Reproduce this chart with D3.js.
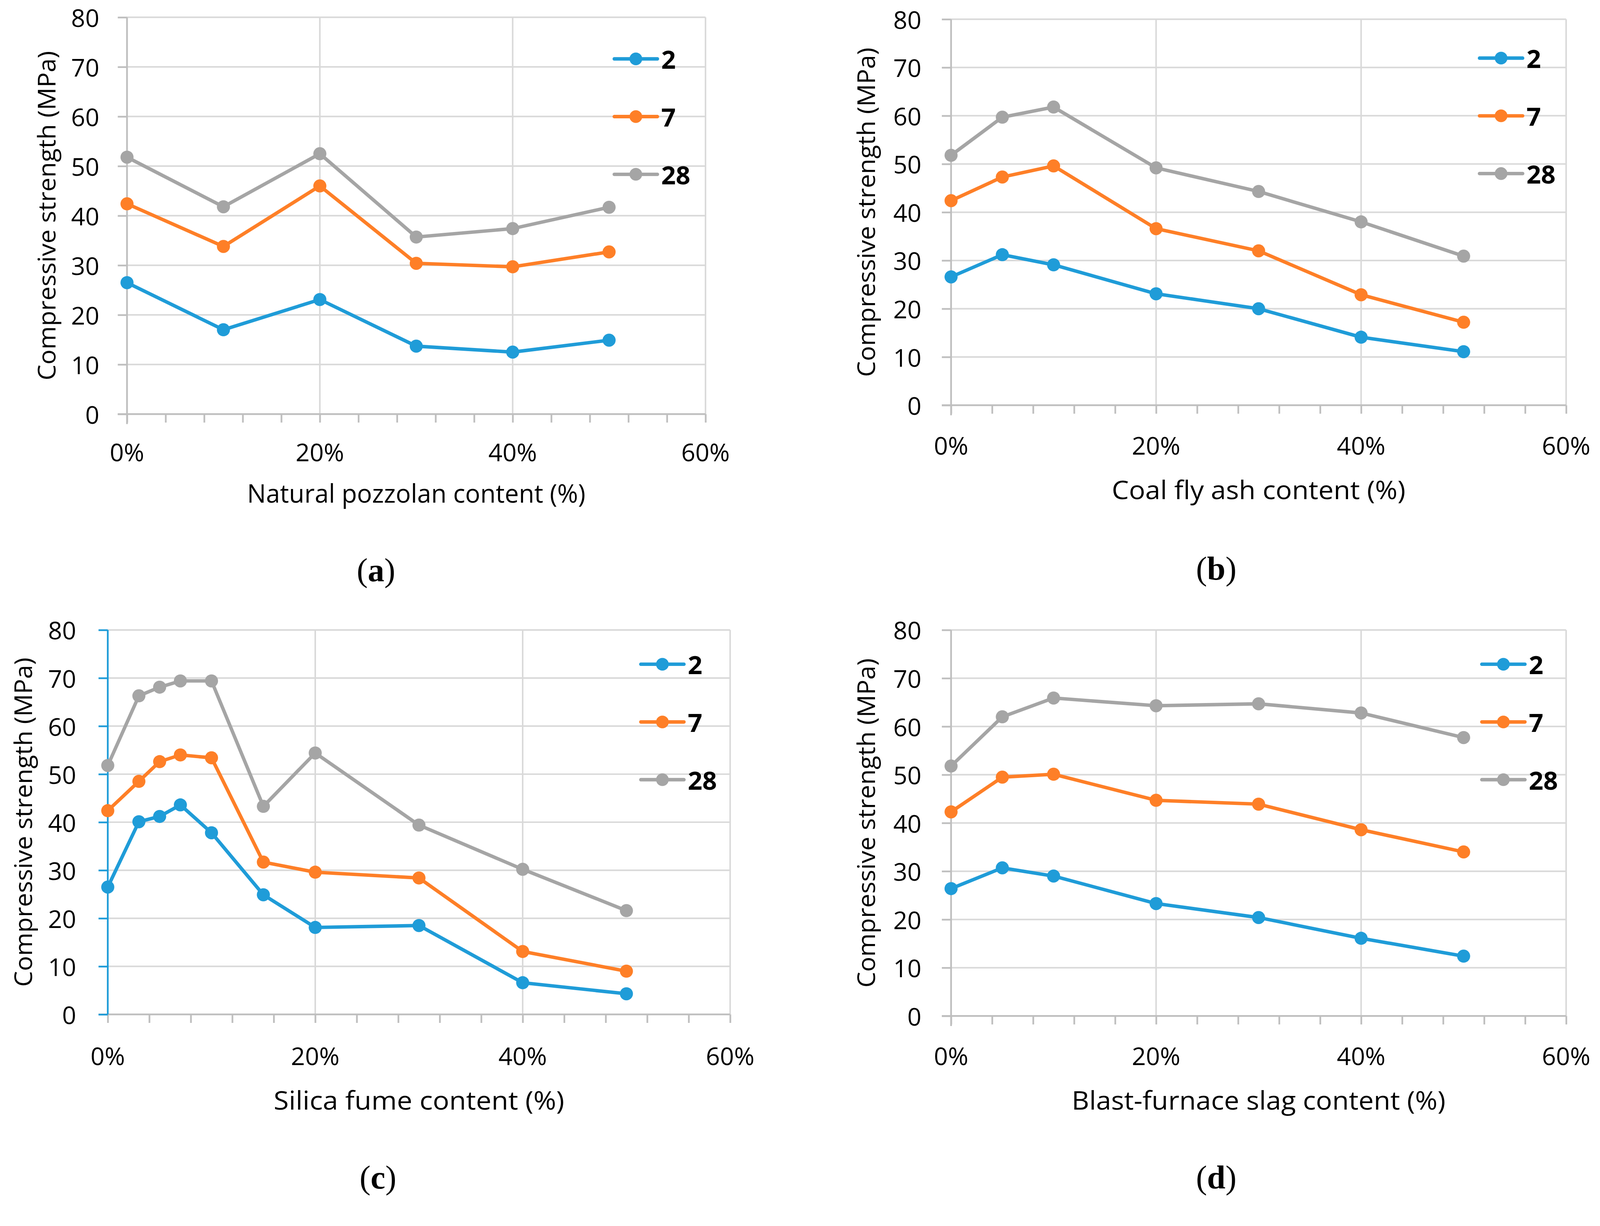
<!DOCTYPE html>
<html>
<head>
<meta charset="utf-8">
<script src="https://cdn.jsdelivr.net/npm/d3@7"></script>
<style>
  html, body { margin: 0; padding: 0; background: #fff; overflow: hidden; }
  svg { display: block; width: 100vw; height: 100vh; }
  text { font-family: 'Open Sans', 'Noto Sans', sans-serif; fill: #000; }
</style>
</head>
<body>
<svg id="chart"></svg>
<script>
// curing age (days) for each series
const ages = ['2', '7', '28'];
const ageColors = ['#1f9cd8', '#fe7f27', '#a5a5a5'];

const yTicks = [0, 10, 20, 30, 40, 50, 60, 70, 80];
const xMajor = [0, 20, 40, 60];
const xTickLabels = ['0%', '20%', '40%', '60%'];

// (a) natural pozzolan
const xNP = [0, 10, 20, 30, 40, 50];
const np2 = [26.5, 17.0, 23.1, 13.7, 12.5, 14.9];
const np7 = [42.4, 33.8, 46.0, 30.4, 29.7, 32.7];
const np28 = [51.8, 41.8, 52.5, 35.7, 37.4, 41.7];

// (b) coal fly ash
const xFA = [0, 5, 10, 20, 30, 40, 50];
const fa2 = [26.6, 31.2, 29.1, 23.1, 20.0, 14.1, 11.1];
const fa7 = [42.4, 47.3, 49.6, 36.6, 32.0, 22.9, 17.2];
const fa28 = [51.8, 59.7, 61.8, 49.2, 44.3, 38.0, 30.9];

// (c) silica fume
const xSF = [0, 3, 5, 7, 10, 15, 20, 30, 40, 50];
const sf2 = [26.5, 40.1, 41.2, 43.6, 37.8, 24.9, 18.1, 18.5, 6.6, 4.3];
const sf7 = [42.4, 48.5, 52.6, 54.0, 53.4, 31.7, 29.6, 28.4, 13.1, 9.0];
const sf28 = [51.8, 66.3, 68.1, 69.4, 69.4, 43.3, 54.4, 39.4, 30.2, 21.6];

// (d) blast-furnace slag
const xBF = [0, 5, 10, 20, 30, 40, 50];
const bf2 = [26.4, 30.7, 29.0, 23.3, 20.4, 16.1, 12.4];
const bf7 = [42.3, 49.5, 50.1, 44.7, 43.9, 38.6, 34.0];
const bf28 = [51.8, 62.0, 65.9, 64.3, 64.7, 62.8, 57.7];

const W = 4157, H = 3139;
const svg = d3.select('#chart')
  .attr('viewBox', `0 0 ${W} ${H}`)
  .attr('preserveAspectRatio', 'xMidYMin meet');

// layout of each panel (pixels)
const panels = [
  {cap: 'a', xs: xNP, ys: [np2, np7, np28], title: 'Natural pozzolan content (%)', titleLen: 879,
   left: 330, right: 1833, bottom: 1076, top: 45, yLabDx: 72, yTitleX: 144, xLabDy: 98, xTitleDy: 230,
   legX: 1596, legY: 153, capX: 977, capY: 1510, yAxisColor: '#bfbfbf'},
  {cap: 'b', xs: xFA, ys: [fa2, fa7, fa28], title: 'Coal fly ash content (%)', titleLen: 763,
   left: 2471, right: 4069, bottom: 1053, top: 50, yLabDx: 77, yTitleX: 2273, xLabDy: 103, xTitleDy: 244,
   legX: 3844, legY: 151, capX: 3160, capY: 1506, yAxisColor: '#bfbfbf'},
  {cap: 'c', xs: xSF, ys: [sf2, sf7, sf28], title: 'Silica fume content (%)', titleLen: 755,
   left: 280, right: 1897, bottom: 2636, top: 1637, yLabDx: 82, yTitleX: 83, xLabDy: 107, xTitleDy: 247,
   legX: 1665, legY: 1726, capX: 982, capY: 3088, yAxisColor: '#1f9cd8'},
  {cap: 'd', xs: xBF, ys: [bf2, bf7, bf28], title: 'Blast-furnace slag content (%)', titleLen: 971,
   left: 2471, right: 4069, bottom: 2640, top: 1637, yLabDx: 77, yTitleX: 2273, xLabDy: 103, xTitleDy: 243,
   legX: 3850, legY: 1726, capX: 3160, capY: 3088, yAxisColor: '#bfbfbf'},
];

const minorTicks = d3.range(0, 61, 4);

panels.forEach((p) => {
  const g = svg.append('g');
  const x = d3.scaleLinear().domain([0, 60]).range([p.left, p.right]);
  const y = d3.scaleLinear().domain([0, 80]).range([p.bottom, p.top]);

  // gridlines
  g.append('g').selectAll('line').data(yTicks.slice(1)).join('line')
    .attr('x1', p.left).attr('x2', p.right)
    .attr('y1', (d) => y(d)).attr('y2', (d) => y(d))
    .attr('stroke', '#d9d9d9').attr('stroke-width', 4);
  g.append('g').selectAll('line').data(xMajor.slice(1)).join('line')
    .attr('x1', (d) => x(d)).attr('x2', (d) => x(d))
    .attr('y1', p.bottom).attr('y2', p.top)
    .attr('stroke', '#d9d9d9').attr('stroke-width', 4);

  // x axis with minor ticks
  const xAxis = g.append('g').attr('transform', `translate(0,${p.bottom})`)
    .call(d3.axisBottom(x).tickValues(minorTicks).tickSize(22).tickSizeOuter(0).tickFormat(''));
  xAxis.selectAll('path, line').attr('stroke', '#bfbfbf').attr('stroke-width', 4.5);
  xAxis.select('.domain').attr('d', `M${p.left - 24},0H${p.right}`);

  g.append('g').selectAll('text').data(xMajor).join('text')
    .attr('x', (d) => x(d)).attr('y', p.bottom + p.xLabDy)
    .attr('text-anchor', 'middle').attr('dominant-baseline', 'central')
    .attr('font-size', 64)
    .text((d, i) => xTickLabels[i]);

  // y axis
  const yAxis = g.append('g').attr('transform', `translate(${p.left},0)`)
    .call(d3.axisLeft(y).tickValues(yTicks).tickSize(24).tickSizeOuter(0).tickFormat(''));
  yAxis.selectAll('path, line').attr('stroke', p.yAxisColor).attr('stroke-width', 4.5);
  yAxis.select('.domain').attr('d', `M0,${p.top}V${p.cap === 'c' ? p.bottom : p.bottom + 26}`);

  g.append('g').selectAll('text').data(yTicks).join('text')
    .attr('x', p.left - p.yLabDx).attr('y', (d) => y(d))
    .attr('text-anchor', 'end').attr('dominant-baseline', 'central')
    .attr('font-size', 64)
    .text((d) => d);

  // axis titles
  g.append('text')
    .attr('transform', `translate(${p.yTitleX},${(p.top + p.bottom) / 2}) rotate(-90)`)
    .attr('text-anchor', 'middle').attr('font-size', 64)
    .attr('textLength', 856).attr('lengthAdjust', 'spacingAndGlyphs')
    .text('Compressive strength (MPa)');

  g.append('text')
    .attr('x', (p.left + p.right) / 2).attr('y', p.bottom + p.xTitleDy)
    .attr('text-anchor', 'middle').attr('font-size', 66)
    .attr('textLength', p.titleLen).attr('lengthAdjust', 'spacingAndGlyphs')
    .text(p.title);

  // series
  const line = d3.line().x((d) => x(d[0])).y((d) => y(d[1]));
  p.ys.forEach((vals, si) => {
    const pts = p.xs.map((xv, i) => [xv, vals[i]]);
    g.append('path').datum(pts)
      .attr('d', line).attr('fill', 'none')
      .attr('stroke', ageColors[si]).attr('stroke-width', 9)
      .attr('stroke-linejoin', 'round');
    g.append('g').selectAll('circle').data(pts).join('circle')
      .attr('cx', (d) => x(d[0])).attr('cy', (d) => y(d[1]))
      .attr('r', 17).attr('fill', ageColors[si]);
  });

  // legend
  const leg = g.append('g').selectAll('g').data(ages).join('g')
    .attr('transform', (d, i) => `translate(${p.legX},${p.legY + i * 150})`);
  leg.append('line').attr('x1', 0).attr('x2', 112)
    .attr('stroke', (d, i) => ageColors[i]).attr('stroke-width', 9)
    .attr('stroke-linecap', 'round');
  leg.append('circle').attr('cx', 56).attr('r', 16.5)
    .attr('fill', (d, i) => ageColors[i]);
  leg.append('text')
    .attr('x', 122).attr('dominant-baseline', 'central')
    .attr('font-size', 66).attr('font-weight', 'bold')
    .text((d) => d);

  // caption
  const cap = g.append('text').attr('x', p.capX).attr('y', p.capY)
    .attr('text-anchor', 'middle').attr('font-size', 86)
    .style('font-family', "'Liberation Serif', 'DejaVu Serif', serif");
  cap.append('tspan').text('(');
  cap.append('tspan').attr('font-weight', 'bold').text(p.cap);
  cap.append('tspan').text(')');
});
</script>
</body>
</html>
